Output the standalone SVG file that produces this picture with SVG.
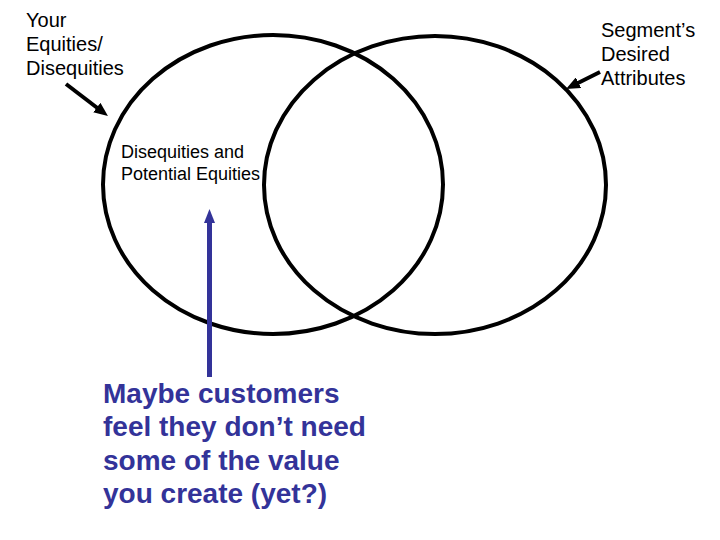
<svg xmlns="http://www.w3.org/2000/svg" width="720" height="540" viewBox="0 0 720 540">
  <style>
    .circ { fill: none; stroke: #000; stroke-width: 4; }
    .lbl { font-family: "Liberation Sans", Arial, sans-serif; fill: #000; }
    .blue { font-family: "Liberation Sans", Arial, sans-serif; font-weight: bold; fill: #333399; font-size: 28px; }
    .blk { stroke: #000; stroke-width: 4; fill: none; }
    .bl { stroke: #333399; stroke-width: 5; fill: none; }
  </style>
  <defs>
    <marker id="headK" markerUnits="userSpaceOnUse" markerWidth="14" markerHeight="12" refX="4" refY="6" orient="auto">
      <path d="M0,0 L14,6 L0,12 z" fill="#000"/>
    </marker>
    <marker id="headB" markerUnits="userSpaceOnUse" markerWidth="14" markerHeight="12" refX="3" refY="6" orient="auto">
      <path d="M0,0.5 L14,6 L0,11.5 z" fill="#333399"/>
    </marker>
  </defs>
  <rect width="720" height="540" fill="#fff"/>

  <g id="circle-left">
    <ellipse class="circ" cx="273" cy="184.5" rx="170" ry="149.5"/>
  </g>
  <g id="circle-right">
    <ellipse class="circ" cx="435" cy="185" rx="171" ry="149"/>
  </g>

  <g id="label-your-equities">
    <text class="lbl" font-size="20" x="26" y="27">Your</text>
    <text class="lbl" font-size="20" x="26" y="51">Equities/</text>
    <text class="lbl" font-size="20" x="26" y="75">Disequities</text>
  </g>
  <g id="label-segment">
    <text class="lbl" font-size="20" x="601" y="37">Segment’s</text>
    <text class="lbl" font-size="20" x="601" y="61">Desired</text>
    <text class="lbl" font-size="20" x="601" y="85">Attributes</text>
  </g>
  <g id="label-overlap">
    <text class="lbl" font-size="18" x="121" y="158">Disequities and</text>
    <text class="lbl" font-size="18" x="121" y="180">Potential Equities</text>
  </g>
  <g id="label-maybe">
    <text class="blue" x="103" y="403">Maybe customers</text>
    <text class="blue" x="103" y="436">feel they don’t need</text>
    <text class="blue" x="103" y="470">some of the value</text>
    <text class="blue" x="103" y="503">you create (yet?)</text>
  </g>

  <g id="connectors">
    <path class="blk" d="M66,84 L100,110" marker-end="url(#headK)"/>
    <path class="blk" d="M600,72 L575,84.5" marker-end="url(#headK)"/>
    <path class="bl" d="M209.5,377 L209.5,220" marker-end="url(#headB)"/>
  </g>
</svg>
